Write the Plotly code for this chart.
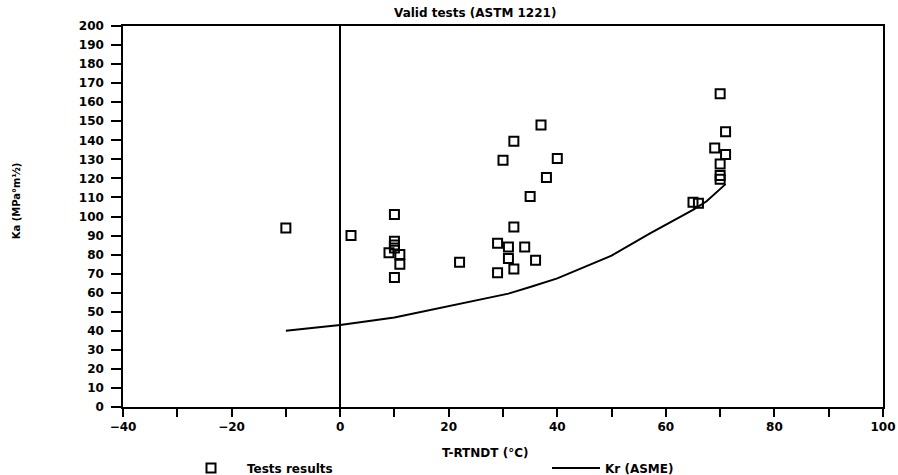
import plotly.graph_objects as go

# Test results (T-RTNDT in degC, Ka in MPa*m^0.5)
test_x = [-10, 2, 10, 10, 10, 10, 9, 11, 11, 10, 22, 29, 31, 34, 31, 36, 29, 32, 32, 35,
          30, 32, 37, 40, 38, 65, 66, 70, 71, 69, 71, 70, 70, 70]
test_y = [94, 90, 101, 87, 85, 83.5, 81, 80, 75, 68, 76, 86, 84, 84, 78, 77, 70.5, 72.5, 94.5, 110.5,
          129.5, 139.5, 148, 130.5, 120.5, 107.5, 107, 164.5, 144.5, 136, 132.5, 127.5, 121.5, 119.5]

# Kr (ASME) reference curve
kr_x = [-10, 0, 10, 20, 28, 31, 35, 40, 50, 57, 65, 67.5, 71]
kr_y = [40, 43, 47, 53, 58, 59.5, 63, 67.5, 79.5, 91, 103.5, 108, 117]

x_ticks = [-40, -20, 0, 20, 40, 60, 80, 100]
y_ticks = list(range(0, 201, 10))

title_text = "Valid tests (ASTM 1221)"
x_title = "T-RTNDT (°C)"
y_title = "Ka (MPa°m½)"

FONT = dict(family="DejaVu Sans", size=12, color="black", weight="bold")

fig = go.Figure()
fig.add_trace(go.Scatter(
    x=test_x, y=test_y, mode="markers", name="Tests results",
    marker=dict(symbol="square-open", size=9, color="black", line=dict(width=2, color="black")),
    legend="legend",
))
fig.add_trace(go.Scatter(
    x=kr_x, y=kr_y, mode="lines", name="Kr (ASME)",
    line=dict(color="black", width=2),
    legend="legend2",
))

axis_common = dict(
    showline=True, linecolor="black", linewidth=1.5, mirror=True,
    showgrid=False, ticks="outside", tickcolor="black", tickwidth=1.5,
    tickfont=FONT, automargin=False,
)

fig.update_layout(
    width=898, height=475,
    margin=dict(l=123, r=15, t=26, b=68, autoexpand=False),
    paper_bgcolor="white", plot_bgcolor="white",
    font=FONT,
    xaxis=dict(
        range=[-40, 100], tickvals=x_ticks, ticklen=8,
        minor=dict(dtick=10, ticks="outside", ticklen=8, tickcolor="black", tickwidth=1.5),
        zeroline=True, zerolinecolor="black", zerolinewidth=1.5,
        **axis_common,
    ),
    yaxis=dict(
        range=[0, 200], tickvals=y_ticks, ticklen=10, ticklabelstandoff=5,
        zeroline=False,
        **axis_common,
    ),
    showlegend=True,
    legend=dict(xref="container", yref="container", x=175 / 898, y=7 / 475,
                xanchor="left", yanchor="middle",
                orientation="h", itemwidth=62, font=FONT, bgcolor="rgba(0,0,0,0)"),
    legend2=dict(xref="container", yref="container", x=547 / 898, y=7 / 475,
                 xanchor="left", yanchor="middle",
                 orientation="h", itemwidth=48, font=FONT, bgcolor="rgba(0,0,0,0)"),
    annotations=[
        dict(text=title_text, xref="paper", yref="paper", x=(475 - 123) / 760, y=1,
             yshift=13, xanchor="center", yanchor="middle", showarrow=False, font=FONT),
        dict(text=x_title, xref="paper", yref="paper", x=(485 - 123) / 760, y=-0.12,
             xanchor="center", yanchor="middle", showarrow=False, font=FONT),
        dict(text=y_title, xref="paper", yref="paper", x=-(123 - 16) / 760, y=0.54,
             xanchor="center", yanchor="middle", textangle=-90, showarrow=False,
             font=dict(family="DejaVu Sans", size=10, color="black", weight="bold")),
    ],
)

fig.write_html("out.html")
